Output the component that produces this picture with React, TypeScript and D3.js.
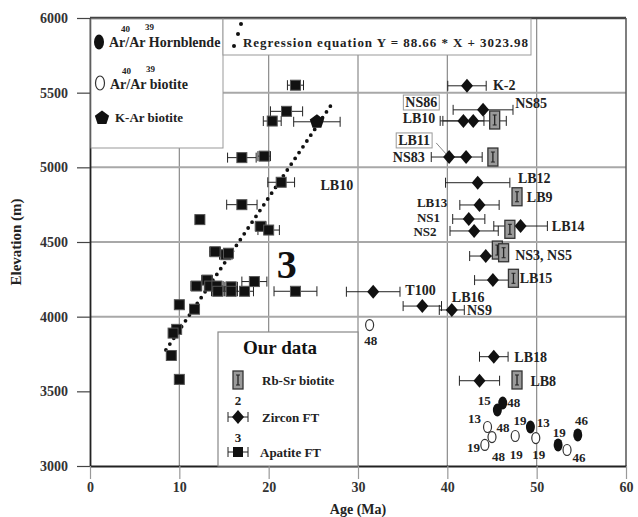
import React, { useEffect, useRef } from 'react';
import * as d3 from 'd3';

// Apatite FT (squares)
const apatiteAge = [23.0, 22.0, 20.4, 17.0, 19.5, 21.4, 17.0, 12.3, 19.1, 20.0, 14.0, 15.2, 15.5, 11.9, 13.1, 13.4, 14.2, 14.3, 15.8, 15.8, 17.3, 18.4, 23.0, 10.0, 11.7, 9.7, 9.3, 9.1, 10.0];
const apatiteElev = [5550, 5375, 5310, 5065, 5075, 4900, 4750, 4650, 4605, 4580, 4435, 4415, 4425, 4205, 4245, 4205, 4205, 4170, 4200, 4170, 4170, 4235, 4170, 4080, 4050, 3915, 3890, 3740, 3580];
const apatiteErr = [0.9, 1.8, 1.0, 1.6, 0.7, 1.5, 1.7, 0.5, 0.6, 1.2, 0.6, 0.7, 0.4, 0.6, 0.6, 0.6, 0.7, 0.7, 0.7, 0.7, 1.0, 1.4, 2.4, 0.5, 0.5, 0.4, 0.4, 0.5, 0.4];

// K-Ar biotite
const karAge = [25.4];
const karElev = [5305];
const karErr = [2.6];

// Zircon FT (diamonds)
const zirconAge = [42.2, 44.0, 41.8, 42.9, 40.2, 42.1, 43.4, 43.6, 42.4, 43.0, 48.2, 44.3, 45.1, 31.7, 37.2, 40.5, 45.2, 43.6];
const zirconElev = [5546, 5385, 5311, 5311, 5069, 5069, 4897, 4748, 4654, 4574, 4607, 4406, 4245, 4167, 4071, 4045, 3732, 3571];
const zirconErr = [2.15, 3.35, 2.3, 3.7, 2.0, 1.8, 3.6, 2.2, 1.8, 2.7, 3.0, 1.8, 2.05, 3.0, 2.15, 1.4, 1.6, 2.25];

// Rb-Sr biotite
const rbsrAge = [45.3, 45.1, 47.8, 47.0, 45.6, 46.3, 47.4, 47.8];
const rbsrElev = [5317, 5069, 4803, 4585, 4446, 4428, 4257, 3576];

// 40Ar/39Ar hornblende (filled) and biotite (open)
const hbAge = [45.6, 46.2, 49.3, 52.4, 54.6];
const hbElev = [3375, 3422, 3261, 3141, 3208];
const btAge = [31.3, 44.5, 44.2, 45.0, 47.6, 49.9, 53.4];
const btElev = [3944, 3261, 3141, 3194, 3201, 3187, 3107];

// sample labels
const labelText = ['K-2', 'NS86', 'NS85', 'LB10', 'LB11', 'NS83', 'LB12', 'LB9', 'LB13', 'NS1', 'NS2', 'LB14', 'NS3, NS5', 'LB15', 'T100', 'LB16', 'NS9', '48', 'LB18', 'LB8', 'LB10',
  '15', '48', '13', '48', '19', '13', '19', '19', '46', '48', '19', '19', '46'];
const labelAge = [45.1, 35.3, 47.6, 35.0, 34.5, 33.9, 47.9, 48.9, 36.6, 36.6, 36.2, 51.7, 47.6, 48.1, 35.3, 40.5, 42.2, 30.7, 47.5, 49.3, 25.8,
  43.4, 46.7, 42.3, 45.5, 47.4, 50.0, 42.2, 51.8, 54.3, 45.0, 47.0, 49.5, 54.0];
const labelElev = [5518, 5404, 5397, 5297, 5150, 5036, 4895, 4768, 4734, 4637, 4540, 4574, 4379, 4225, 4145, 4098, 4011, 3810, 3696, 3536, 4848,
  3408, 3395, 3288, 3228, 3275, 3261, 3094, 3194, 3275, 3033, 3047, 3047, 3027];

// regression Y = 88.66 * X + 3023.98
const regSlope = 88.66;
const regIntercept = 3023.98;
const regRange = [8.5, 27.0];

const xTicks = [0, 10, 20, 30, 40, 50, 60];
const yTicks = [3000, 3500, 4000, 4500, 5000, 5500, 6000];
const gridX = [10, 20, 30, 40, 50];
const gridY = [4000, 4500, 5000, 5500];

const FONT = "'Liberation Serif', 'Times New Roman', serif";

export default function App() {
  const ref = useRef(null);

  useEffect(() => {
    const svg = d3.select(ref.current);
    svg.selectAll('*').remove();

    const x = d3.scaleLinear().domain([0, 60]).range([90, 626]);
    const y = d3.scaleLinear().domain([3000, 6000]).range([466, 18]);

    svg.append('rect').attr('width', 638).attr('height', 517).attr('fill', '#fff');

    // grid
    svg.selectAll('.gx').data(gridX).enter().append('line')
      .attr('x1', (d) => x(d)).attr('x2', (d) => x(d))
      .attr('y1', y(6000)).attr('y2', y(3000))
      .attr('stroke', '#8a8a8a').attr('stroke-width', 1.2);
    svg.selectAll('.gy').data(gridY).enter().append('line')
      .attr('x1', x(0)).attr('x2', x(60))
      .attr('y1', (d) => y(d)).attr('y2', (d) => y(d))
      .attr('stroke', '#a8a8a8').attr('stroke-width', 2);

    // frame top / right
    svg.append('line').attr('x1', x(0)).attr('x2', x(60)).attr('y1', y(6000)).attr('y2', y(6000))
      .attr('stroke', '#444').attr('stroke-width', 2.5);
    svg.append('line').attr('x1', x(60)).attr('x2', x(60)).attr('y1', y(6000)).attr('y2', y(3000))
      .attr('stroke', '#555').attr('stroke-width', 1.5);

    // axes
    const yAxis = svg.append('g').attr('transform', `translate(${x(0)},0)`)
      .call(d3.axisLeft(y).tickValues(yTicks).tickSize(13).tickSizeOuter(0).tickPadding(9).tickFormat(d3.format('d')));
    const xAxis = svg.append('g').attr('transform', `translate(0,${y(3000)})`)
      .call(d3.axisBottom(x).tickValues(xTicks).tickSize(13).tickSizeOuter(0).tickPadding(3).tickFormat(d3.format('d')));
    [yAxis, xAxis].forEach((a) => {
      a.select('.domain').attr('stroke', '#222').attr('stroke-width', 1.8);
      a.selectAll('.tick line').attr('stroke', '#444').attr('stroke-width', 1.2);
      a.selectAll('.tick text').attr('font-family', FONT).attr('font-weight', 'bold')
        .attr('font-size', 14).attr('fill', '#333');
    });
    xAxis.selectAll('.tick line').attr('stroke', '#999');

    svg.append('text').attr('transform', `translate(21,${y(4500)}) rotate(-90)`)
      .attr('text-anchor', 'middle').attr('font-family', FONT).attr('font-weight', 'bold')
      .attr('font-size', 15).attr('fill', '#222').text('Elevation (m)');
    svg.append('text').attr('x', x(30)).attr('y', 514)
      .attr('text-anchor', 'middle').attr('font-family', FONT).attr('font-weight', 'bold')
      .attr('font-size', 14).attr('fill', '#222').text('Age (Ma)');

    // error bars
    const errBar = (g, a, e, err) => {
      g.append('line').attr('x1', x(a - err)).attr('x2', x(a + err)).attr('y1', y(e)).attr('y2', y(e))
        .attr('stroke', '#222').attr('stroke-width', 1);
      [a - err, a + err].forEach((v) => {
        g.append('line').attr('x1', x(v)).attr('x2', x(v)).attr('y1', y(e) - 5).attr('y2', y(e) + 5)
          .attr('stroke', '#222').attr('stroke-width', 1);
      });
    };

    const marks = svg.append('g');

    // regression dotted line
    marks.append('line')
      .attr('x1', x(regRange[0])).attr('y1', y(regSlope * regRange[0] + regIntercept))
      .attr('x2', x(regRange[1])).attr('y2', y(regSlope * regRange[1] + regIntercept))
      .attr('stroke', '#111').attr('stroke-width', 3.8).attr('stroke-linecap', 'round')
      .attr('stroke-dasharray', '0 7');

    apatiteAge.forEach((a, i) => errBar(marks, a, apatiteElev[i], apatiteErr[i]));
    apatiteAge.forEach((a, i) => {
      marks.append('rect').attr('x', x(a) - 5).attr('y', y(apatiteElev[i]) - 5)
        .attr('width', 10).attr('height', 10).attr('fill', '#111').attr('stroke', '#555').attr('stroke-width', 1);
    });

    const pentagon = (r) => d3.range(5).map((k) => {
      const ang = -Math.PI / 2 + k * 2 * Math.PI / 5;
      return [r * Math.cos(ang), r * Math.sin(ang)];
    });
    const penPath = (r) => 'M' + pentagon(r).map((p) => p.join(',')).join('L') + 'Z';

    karAge.forEach((a, i) => {
      errBar(marks, a, karElev[i], karErr[i]);
      marks.append('path').attr('d', penPath(7.5))
        .attr('transform', `translate(${x(a)},${y(karElev[i])})`).attr('fill', '#111');
    });

    const diamond = 'M0,-7L6,0L0,7L-6,0Z';
    zirconAge.forEach((a, i) => errBar(marks, a, zirconElev[i], zirconErr[i]));
    zirconAge.forEach((a, i) => {
      marks.append('path').attr('d', diamond)
        .attr('transform', `translate(${x(a)},${y(zirconElev[i])})`).attr('fill', '#111');
    });

    const rbsr = (g, cx, cy) => {
      g.append('rect').attr('x', cx - 5).attr('y', cy - 9).attr('width', 10).attr('height', 18)
        .attr('fill', '#9a9a9a').attr('stroke', '#333').attr('stroke-width', 1.3);
      g.append('line').attr('x1', cx).attr('x2', cx).attr('y1', cy - 5).attr('y2', cy + 5)
        .attr('stroke', '#222').attr('stroke-width', 1.3);
      g.append('line').attr('x1', cx - 2).attr('x2', cx + 2).attr('y1', cy - 5).attr('y2', cy - 5).attr('stroke', '#222');
      g.append('line').attr('x1', cx - 2).attr('x2', cx + 2).attr('y1', cy + 5).attr('y2', cy + 5).attr('stroke', '#222');
    };
    rbsrAge.forEach((a, i) => rbsr(marks, x(a), y(rbsrElev[i])));

    hbAge.forEach((a, i) => {
      marks.append('ellipse').attr('cx', x(a)).attr('cy', y(hbElev[i])).attr('rx', 4.5).attr('ry', 6.5).attr('fill', '#111');
    });
    btAge.forEach((a, i) => {
      marks.append('ellipse').attr('cx', x(a)).attr('cy', y(btElev[i])).attr('rx', 4).attr('ry', 5.5)
        .attr('fill', '#fff').attr('stroke', '#333').attr('stroke-width', 1.2);
    });

    // labels
    const labels = svg.append('g');
    labelText.forEach((t, i) => {
      const num = /^\d+$/.test(t);
      const small = t === 'NS1' || t === 'NS2' || t === 'LB13';
      labels.append('text').attr('x', x(labelAge[i])).attr('y', y(labelElev[i]))
        .attr('font-family', FONT).attr('font-weight', 'bold')
        .attr('font-size', num || small ? 13 : 14).attr('fill', '#222').text(t);
    });
    // boxed labels
    labels.selectAll('text').filter((d, i) => i === 1 || i === 4).each(function () {
      const b = this.getBBox();
      labels.append('rect').attr('x', b.x - 2).attr('y', b.y).attr('width', b.width + 4).attr('height', b.height)
        .attr('fill', 'none').attr('stroke', '#999').attr('stroke-width', 1);
    });
    // leader line LB11 -> NS83
    labels.append('line').attr('x1', x(labelAge[4]) + 38).attr('y1', y(labelElev[4]) - 2)
      .attr('x2', x(zirconAge[4]) - 3).attr('y2', y(zirconElev[4]) - 3).attr('stroke', '#888');

    labels.append('text').attr('x', x(20.9)).attr('y', y(4259))
      .attr('font-family', FONT).attr('font-weight', 'bold').attr('font-size', 40).attr('fill', '#111').text('3');

    // legend top-left
    const lg = svg.append('g');
    lg.append('rect').attr('x', 91).attr('y', 19).attr('width', 132).attr('height', 129)
      .attr('fill', '#fff').attr('stroke', '#999').attr('stroke-width', 1);
    const legText = (tx, ty, t, sup, fs) => {
      lg.append('text').attr('x', tx).attr('y', ty).attr('font-family', FONT).attr('font-weight', 'bold')
        .attr('font-size', fs).attr('fill', '#222').text(t);
      if (sup) {
        lg.append('text').attr('x', tx + 12).attr('y', ty - 15).attr('font-family', FONT).attr('font-weight', 'bold')
          .attr('font-size', 9).attr('fill', '#222').text('40');
        lg.append('text').attr('x', tx + 36).attr('y', ty - 17).attr('font-family', FONT).attr('font-weight', 'bold')
          .attr('font-size', 9).attr('fill', '#222').text('39');
      }
    };
    lg.append('ellipse').attr('cx', 99).attr('cy', 42).attr('rx', 5).attr('ry', 7.5).attr('fill', '#111');
    legText(109, 47, 'Ar/Ar Hornblende', true, 14);
    lg.append('ellipse').attr('cx', 100).attr('cy', 83).attr('rx', 4.5).attr('ry', 7)
      .attr('fill', '#fff').attr('stroke', '#333').attr('stroke-width', 1.2);
    legText(110, 89, 'Ar/Ar biotite', true, 14);
    lg.append('path').attr('d', penPath(7.5)).attr('transform', 'translate(102,118)').attr('fill', '#111');
    legText(115, 122, 'K-Ar biotite', false, 13);

    // regression box
    lg.append('rect').attr('x', 223).attr('y', 19).attr('width', 308).attr('height', 36)
      .attr('fill', '#fff').attr('stroke', '#999').attr('stroke-width', 1);
    [[241, 24], [238, 34], [234, 46]].forEach((p) => {
      lg.append('circle').attr('cx', p[0]).attr('cy', p[1]).attr('r', 2).attr('fill', '#111');
    });
    lg.append('text').attr('x', 243).attr('y', 47).attr('font-family', FONT).attr('font-weight', 'bold')
      .attr('font-size', 13).attr('fill', '#222').attr('textLength', 285)
      .text(`Regression equation Y = ${regSlope} * X + ${regIntercept}`);

    // "Our data" legend
    lg.append('rect').attr('x', 218).attr('y', 332).attr('width', 140).attr('height', 134)
      .attr('fill', '#fff').attr('stroke', '#888').attr('stroke-width', 1.2);
    lg.append('text').attr('x', 243).attr('y', 354).attr('font-family', FONT).attr('font-weight', 'bold')
      .attr('font-size', 19).attr('fill', '#111').text('Our data');
    rbsr(lg, 238, 380);
    lg.append('text').attr('x', 262).attr('y', 385).attr('font-family', FONT).attr('font-weight', 'bold')
      .attr('font-size', 13).attr('fill', '#222').text('Rb-Sr biotite');
    const legErr = (cx, cy) => {
      lg.append('line').attr('x1', cx - 10).attr('x2', cx + 10).attr('y1', cy).attr('y2', cy).attr('stroke', '#222');
      [cx - 10, cx + 10].forEach((v) => lg.append('line').attr('x1', v).attr('x2', v)
        .attr('y1', cy - 5).attr('y2', cy + 5).attr('stroke', '#222'));
    };
    legErr(238, 417);
    lg.append('path').attr('d', diamond).attr('transform', 'translate(238,417)').attr('fill', '#111');
    lg.append('text').attr('x', 238).attr('y', 405).attr('text-anchor', 'middle').attr('font-family', FONT)
      .attr('font-weight', 'bold').attr('font-size', 13).attr('fill', '#222').text('2');
    lg.append('text').attr('x', 262).attr('y', 422).attr('font-family', FONT).attr('font-weight', 'bold')
      .attr('font-size', 13).attr('fill', '#222').text('Zircon FT');
    legErr(238, 452);
    lg.append('rect').attr('x', 233).attr('y', 447).attr('width', 10).attr('height', 10).attr('fill', '#111');
    lg.append('text').attr('x', 238).attr('y', 442).attr('text-anchor', 'middle').attr('font-family', FONT)
      .attr('font-weight', 'bold').attr('font-size', 13).attr('fill', '#222').text('3');
    lg.append('text').attr('x', 260).attr('y', 457).attr('font-family', FONT).attr('font-weight', 'bold')
      .attr('font-size', 13).attr('fill', '#222').text('Apatite FT');
  }, []);

  return (
    <svg ref={ref} width={638} height={517}
      style={{ position: 'absolute', left: 0, top: 0, display: 'block' }} />
  );
}
